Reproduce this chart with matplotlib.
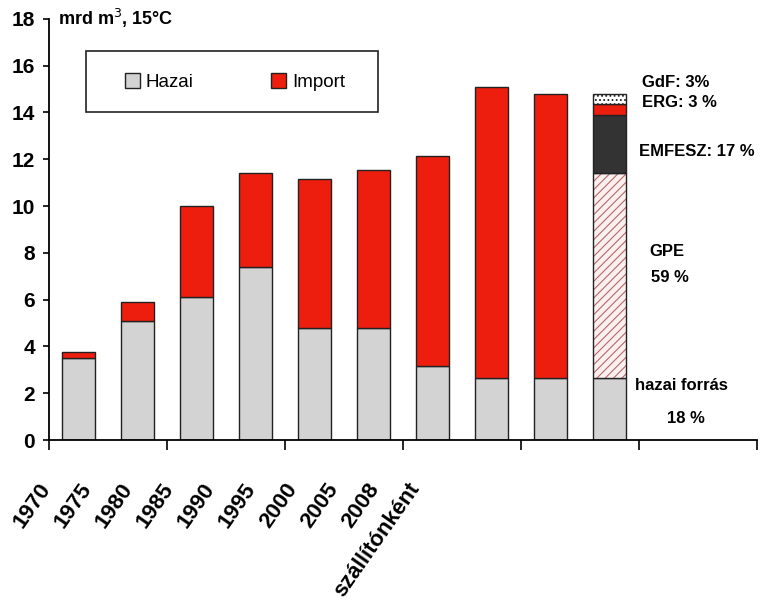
import numpy as np
import matplotlib
import matplotlib.pyplot as plt
from matplotlib.patches import Patch, Rectangle

# földgáz felhasználás, mrd m3 (15 °C)
years = ['1970', '1975', '1980', '1985', '1990', '1995', '2000', '2005', '2008']
hazai = [3.5, 5.1, 6.1, 7.4, 4.8, 4.8, 3.15, 2.65, 2.65]
total = [3.75, 5.9, 10.0, 11.4, 11.15, 11.55, 12.15, 15.1, 14.8]
importv = [t - h for t, h in zip(total, hazai)]

# 2008-as forrás szállítónként, %
supplier_names = ['hazai forrás', 'GPE', 'EMFESZ', 'ERG', 'GdF']
supplier_pct = [18, 59, 17, 3, 3]
supplier_total = 14.8

xlabels = years + ['szállítónként']

RED = '#ee1e0e'
GREY = '#d3d3d3'

plt.rcParams['font.family'] = ['Liberation Sans', 'DejaVu Sans']
plt.rcParams['hatch.linewidth'] = 0.8

fig = plt.figure(figsize=(7.61, 6.13), dpi=100)
ax = fig.add_axes([0.0644, 0.2822, 0.9303, 0.687])

x = np.arange(len(years))
w = 0.56
ax.bar(x, hazai, w, color=GREY, edgecolor='#222222', linewidth=1)
ax.bar(x, importv, w, bottom=hazai, color=RED, edgecolor='#222222', linewidth=1)

# utolsó oszlop: megoszlás szállítónként
xs = len(years)
seg = [supplier_total * p / 100 for p in supplier_pct]
styles = [
    dict(color=GREY),
    dict(facecolor='#fbf0ef', edgecolor='#b36a66', hatch='////', linewidth=0),
    dict(color='#333333'),
    dict(color=RED),
    dict(facecolor='white', edgecolor='#222222', hatch='....', linewidth=0),
]
bottom = 0.0
for s, st in zip(seg, styles):
    ax.bar(xs, s, w, bottom=bottom, **st)
    ax.bar(xs, s, w, bottom=bottom, facecolor='none', edgecolor='#222222', linewidth=1)
    bottom += s

# feliratok a szállítói oszlop mellett
notes = [
    ('GdF: 3%', 9.55, 15.27),
    ('ERG: 3 %', 9.55, 14.42),
    ('EMFESZ: 17 %', 9.50, 12.32),
    ('GPE', 9.67, 8.04),
    ('59 %', 9.70, 6.93),
    ('hazai forrás', 9.43, 2.35),
    ('18 %', 9.97, 0.94),
]
for txt, tx, ty in notes:
    ax.text(tx, ty, txt, ha='left', va='center', fontsize=12, fontweight='bold')

ax.set_yticks(np.arange(0, 19, 2))
ax.tick_params(axis='y', direction='out', length=4, width=1.2, pad=6,
               labelsize=15)
for lab in ax.get_yticklabels():
    lab.set_fontweight('bold')

# osztásjelek minden második kategóriahatáron
ax.set_xticks(np.arange(-0.5, 12, 2))
ax.set_xticklabels([])
ax.tick_params(axis='x', which='major', direction='out', length=7, width=1.2)

ax.set_xlim(-0.5, 11.5)
ax.set_ylim(0, 18)

# kategóriafeliratok ferdén, sűrűbben mint az oszlopok
label_pos = [-0.69 + 0.696 * i for i in range(len(xlabels))]
for pos, lab in zip(label_pos, xlabels):
    ax.annotate(lab, xy=(pos, 0), xycoords=('data', 'axes fraction'),
                xytext=(0, -28), textcoords='offset points',
                rotation=55, rotation_mode='anchor', ha='right', va='top',
                fontsize=16, fontweight='bold', annotation_clip=False)

for side in ['top', 'right']:
    ax.spines[side].set_visible(False)
ax.spines['left'].set_linewidth(1.3)
ax.spines['bottom'].set_linewidth(1.3)

ax.text(0.013, 1.0, 'mrd m$^3$, 15°C', transform=ax.transAxes, ha='left',
        va='center', fontsize=13, fontweight='bold')

# jelmagyarázat kerettel
ax.add_patch(Rectangle((0.052, 0.779), 0.413, 0.145, transform=ax.transAxes,
                       facecolor='white', edgecolor='#222222', linewidth=1.2,
                       zorder=4))
handles = [Patch(facecolor=GREY, edgecolor='#222222', label='Hazai'),
           Patch(facecolor=RED, edgecolor='#222222', label='Import')]
leg = ax.legend(handles=handles, ncol=2, loc='center',
                bbox_to_anchor=(0.107, 0.80, 0.311, 0.10),
                mode='expand', fontsize=13.5, frameon=False,
                handlelength=0.8, handleheight=0.8, handletextpad=0.3,
                borderpad=0, borderaxespad=0)
leg.set_zorder(5)

fig.savefig('out.png', dpi=100)
